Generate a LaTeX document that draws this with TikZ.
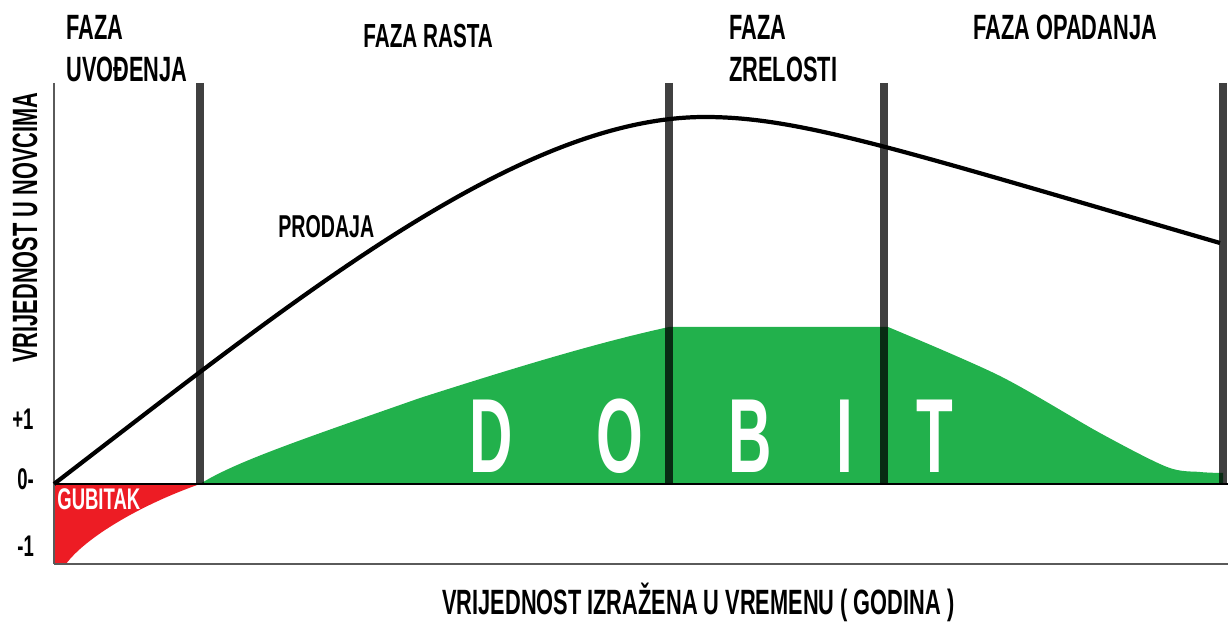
\documentclass[tikz,border=0pt]{standalone}
\usepackage{fontspec}
\newfontfamily\condfont[FakeStretch=0.62]{Liberation Sans}
\newfontfamily\dobitfont[FakeStretch=0.57]{Liberation Sans}
\usetikzlibrary{positioning}
\definecolor{dobitgreen}{HTML}{22B14C}
\definecolor{gubitakred}{HTML}{ED1C24}
\definecolor{axisgray}{HTML}{5A5A5A}

\begin{document}
\begin{tikzpicture}[x=0.02cm, y=-0.02cm,
        lbl/.style={anchor=base west, inner sep=0pt, font={\condfont\bfseries\fontsize{20}{24}\selectfont}},
        smalllbl/.style={anchor=base west, inner sep=0pt, font={\condfont\bfseries\fontsize{17}{20}\selectfont}},
        dobitletter/.style={anchor=base, inner sep=0pt, text=white, font={\dobitfont\bfseries\fontsize{60}{60}\selectfont}},
        phasebar/.style={black, opacity=0.75, line width=4.6pt},
        salesline/.style={black, line width=2.4pt, line join=round}]
            \useasboundingbox (0,0) rectangle (1228,624);
            % Loss
            \fill[gubitakred] (54,484) -- (200,484) .. controls (140,505) and (85,538) .. (66,564) -- (54,564) -- cycle;
            % Profit
            \fill[dobitgreen] (200,484) .. controls (235,462) and (300,440) .. (420,398) .. controls (520,366) and (600,342) .. (669,327)
                -- (888,327)
                -- plot[smooth, tension=0.5] coordinates {(888,327) (1000,376) (1100,433) (1167,467) (1200,472) (1223,473)}
                -- (1223,484) -- cycle;
            % Axes
            \draw[black, line width=1.7pt] (54,484) -- (1228,484);
            \draw[axisgray, line width=1.1pt] (54,83) -- (54,564);
            \draw[axisgray, line width=1.7pt] (54,564) -- (1228,564);
            % Sales
            \draw[salesline] (54,484) .. controls (300,295) and (520,117) .. (705,117)
                .. controls (800,117) and (900,150) .. (1220,243);
            % Phases
            \foreach \bx in {200,669,884,1223}
                \draw[phasebar] (\bx,83) -- (\bx,484);

            \node[lbl] (fazaUvod) at (66,40) {FAZA};
            \node[lbl] (uvodjenja) at (66,82) {UVOĐENJA};
            \node[lbl, font={\condfont\bfseries\fontsize{19}{24}\selectfont}] (fazaRasta) at (363,48) {FAZA RASTA};
            \node[lbl] (fazaZrel) at (729,40) {FAZA};
            \node[lbl] (zrelosti) at (729,82) {ZRELOSTI};
            \node[lbl] (fazaOpad) at (973,40) {FAZA OPADANJA};
            % Axis labels
            \node[lbl, rotate=90] (vrijednostY) at (37,363) {VRIJEDNOST U NOVCIMA};
            \node[lbl] (vrijednostX) at (442,615) {VRIJEDNOST IZRAŽENA U VREMENU ( GODINA )};
            \node[smalllbl] (plusOne) at (12,430) {+1};
            \node[smalllbl] (zeroMark) at (17,490) {0-};
            \node[smalllbl] (minusOne) at (17,557) {-1};
            \node[smalllbl, text=white] (gubitak) at (57,510) {GUBITAK};
            \node[smalllbl, font={\condfont\bfseries\fontsize{18}{20}\selectfont}] (prodaja) at (278,238) {PRODAJA};
            % Profit letters
            \foreach \ch/\cx in {D/491,O/620,B/750,I/845,T/935}
                \node[dobitletter] (dobit\ch) at (\cx,473) {\ch};

        \end{tikzpicture}
\end{document}
